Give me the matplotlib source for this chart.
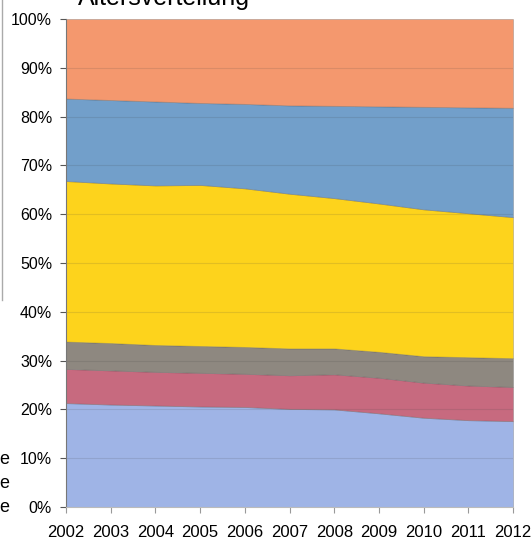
import matplotlib
matplotlib.use("Agg")
import matplotlib.pyplot as plt
import numpy as np

plt.rcParams['font.family'] = ['Liberation Sans', 'DejaVu Sans']

# Jahre und Anteile (in %) je Altersgruppe, von unten nach oben
jahre = [2002, 2003, 2004, 2005, 2006, 2007, 2008, 2009, 2010, 2011, 2012]
gruppe1 = [21.3, 21.0, 20.8, 20.6, 20.5, 20.1, 20.0, 19.2, 18.3, 17.8, 17.6]
gruppe2 = [7.0, 7.0, 6.9, 6.9, 6.8, 6.9, 7.2, 7.3, 7.2, 7.1, 7.0]
gruppe3 = [5.6, 5.6, 5.5, 5.5, 5.5, 5.5, 5.3, 5.3, 5.4, 5.8, 5.9]
gruppe4 = [32.9, 32.7, 32.7, 33.0, 32.5, 31.7, 30.8, 30.4, 30.1, 29.5, 28.9]
gruppe5 = [16.9, 17.1, 17.2, 16.8, 17.3, 18.1, 18.9, 19.9, 21.0, 21.7, 22.4]
gruppe6 = [16.3, 16.6, 16.9, 17.2, 17.4, 17.7, 17.8, 17.9, 18.0, 18.1, 18.2]

farben = ['#9fb4e6', '#c76a7f', '#8e8880', '#fdd31c', '#729fca', '#f4986e']

fig = plt.figure(figsize=(5.31, 5.44), dpi=100)
ax = fig.add_axes([66/531, 37/544, 447/531, 488/544])

ax.stackplot(jahre, gruppe1, gruppe2, gruppe3, gruppe4, gruppe5, gruppe6,
             colors=farben, linewidth=0.6, edgecolor='#55555555')

# Gitterlinien schimmern durch
for g in range(10, 100, 10):
    ax.axhline(g, color='#404040', lw=0.8, alpha=0.14)

ax.set_xlim(2002, 2012)
ax.set_ylim(0, 100)
ax.set_yticks(range(0, 101, 10))
ax.set_yticklabels([f"{v}%" for v in range(0, 101, 10)], fontsize=11.5)
ax.set_xticks(jahre)
ax.set_xticklabels([str(j) for j in jahre], fontsize=12)
ax.tick_params(axis='y', length=4, width=0.8, color='#555555', pad=6)
ax.tick_params(axis='x', length=4, width=0.8, color='#999999', pad=9)

for s in ['top', 'right']:
    ax.spines[s].set_visible(False)
ax.spines['left'].set_color('#777777')
ax.spines['bottom'].set_color('#bbbbbb')

# Titel (oben angeschnitten)
fig.text(164/531, 1 - 5/544, "Altersverteilung", fontsize=18, ha='center', va='baseline')

# Reste einer abgeschnittenen Legende am linken Rand
for yy in [460, 484, 508]:
    fig.text(4/531, 1 - yy/544, "e", fontsize=13, ha='center', va='center')
fig.add_artist(plt.Line2D([2/531, 2/531], [1 - 300/544, 1.0], color='#aaaaaa', lw=1))

fig.savefig("out.png", dpi=100)
